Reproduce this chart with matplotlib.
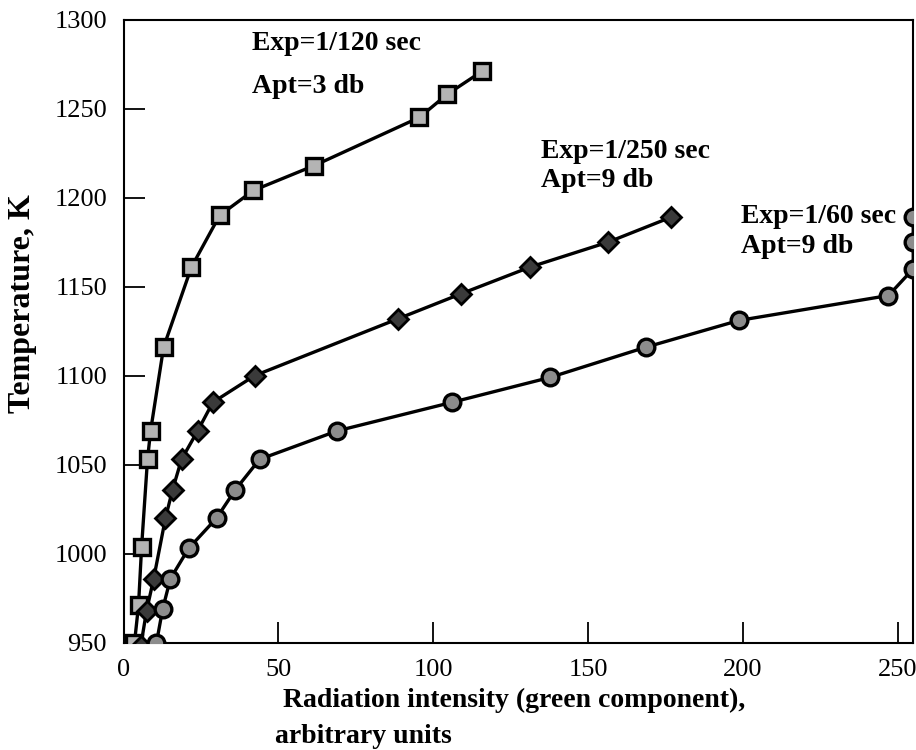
import numpy as np
import matplotlib
matplotlib.use('Agg')
import matplotlib.pyplot as plt

plt.rcParams['font.family'] = ['Liberation Serif', 'DejaVu Serif']

# Exp=1/120 sec, Apt=3 db (squares)
sq_x = [3.5, 4.8, 5.8, 7.7, 8.7, 12.9, 21.9, 31.0, 41.9, 61.6, 95.5, 104.5, 115.8]
sq_t = [950, 971, 1004, 1053, 1069, 1116, 1161, 1190, 1204, 1218, 1245, 1258, 1271]

# Exp=1/250 sec, Apt=9 db (diamonds)
di_x = [5.5, 7.4, 9.7, 13.5, 15.8, 18.7, 23.9, 28.8, 42.3, 88.7, 109.0, 131.3, 156.5, 176.8]
di_t = [948, 968, 986, 1020, 1036, 1053, 1069, 1085, 1100, 1132, 1146, 1161, 1175, 1189]

# Exp=1/60 sec, Apt=9 db (circles)
ci_x = [10.6, 12.6, 15.1, 21.0, 30.0, 36.1, 43.9, 69.0, 106.0, 137.7, 168.7, 198.7, 247.0, 255.0, 255.0, 255.0]
ci_t = [950, 969, 986, 1003, 1020, 1036, 1053, 1069, 1085, 1099, 1116, 1131, 1145, 1160, 1175, 1189]

fig = plt.figure(figsize=(9.16, 7.5), dpi=100)
ax = fig.add_axes([0.135, 0.143, 0.862, 0.831])

ax.plot(sq_x, sq_t, '-', color='black', lw=2.4, marker='s', ms=11,
        mfc='#b4b4b4', mec='black', mew=2.4, zorder=3)
ax.plot(di_x, di_t, '-', color='black', lw=2.4, marker='D', ms=10.5,
        mfc='#3a3a3a', mec='black', mew=2.0, zorder=3)
ax.plot(ci_x, ci_t, '-', color='black', lw=2.4, marker='o', ms=12,
        mfc='#8c8c8c', mec='black', mew=2.4, zorder=3)

ax.set_xlim(0, 255)
ax.set_ylim(950, 1300)
ax.set_xticks([0, 50, 100, 150, 200, 250])
ax.set_yticks(np.arange(950, 1301, 50))
ax.tick_params(axis='both', direction='in', length=15, width=1.3, labelsize=19)
ax.tick_params(axis='y', pad=12)
ax.tick_params(axis='x', pad=12)
for s in ax.spines.values():
    s.set_linewidth(1.5)

txt = dict(fontsize=20, fontweight='bold', va='baseline', ha='left')
ax.text(41.3, 1283, 'Exp=1/120 sec', **txt)
ax.text(41.3, 1258.5, 'Apt=3 db', **txt)
ax.text(134.8, 1222, 'Exp=1/250 sec', **txt)
ax.text(134.8, 1206, 'Apt=9 db', **txt)
ax.text(199.4, 1185.5, 'Exp=1/60 sec', **txt)
ax.text(199.4, 1169, 'Apt=9 db', **txt)

fig.text(0.025, 1 - 304 / 750, 'Temperature, K', fontsize=23, fontweight='bold',
         rotation=90, ha='center', va='center')
fig.text(283 / 916, 1 - 707 / 750, 'Radiation intensity (green component),',
         fontsize=20, fontweight='bold', ha='left', va='baseline')
fig.text(275 / 916, 1 - 743 / 750, 'arbitrary units',
         fontsize=20, fontweight='bold', ha='left', va='baseline')

fig.savefig('out.png', dpi=100)
